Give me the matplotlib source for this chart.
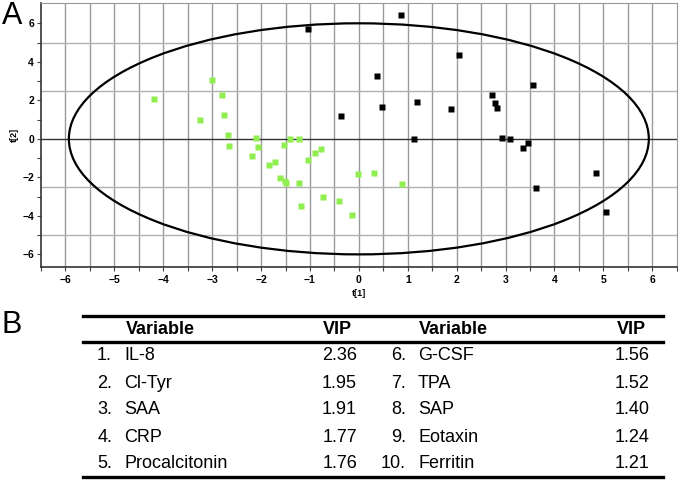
import numpy as np
import matplotlib.pyplot as plt
from matplotlib.patches import Ellipse

plt.rcParams['font.family'] = ['Liberation Sans', 'DejaVu Sans']

# scores, group 1 (green) and group 2 (black)
green_t1 = [-4.19, -3.01, -3.24, -2.79, -2.75, -2.67, -2.65, -2.11, -2.06, -2.19,
            -1.83, -1.72, -1.61, -1.52, -1.50, -1.53, -1.41, -1.23, -1.23, -1.18,
            -1.04, -0.89, -0.77, -0.74, -0.40, -0.02, 0.31, 0.89, -0.14]
green_t2 = [2.09, 3.03, 0.97, 2.26, 1.22, 0.22, -0.38, 0.03, -0.40, -0.88,
            -1.34, -1.19, -2.05, -2.19, -2.28, -0.31, 0.0, 0.0, -2.31, -3.50,
            -1.12, -0.74, -0.52, -3.02, -3.23, -1.84, -1.79, -2.34, -3.97]
black_t1 = [-1.03, 0.86, 2.04, 0.38, 3.57, -0.36, 0.48, 1.19, 1.89, 2.73,
            2.78, 2.83, 1.13, 2.92, 3.10, 3.35, 3.45, 4.85, 3.62, 5.05]
black_t2 = [5.69, 6.41, 4.34, 3.24, 2.79, 1.17, 1.64, 1.90, 1.57, 2.26,
            1.86, 1.60, -0.03, 0.02, 0.0, -0.45, -0.24, -1.76, -2.53, -3.79]

# Hotelling T2 ellipse semi axes
ell_a = 5.93
ell_b = 6.0

# VIP table
var_left = ['IL-8', 'Cl-Tyr', 'SAA', 'CRP', 'Procalcitonin']
vip_left = [2.36, 1.95, 1.91, 1.77, 1.76]
var_right = ['G-CSF', 'TPA', 'SAP', 'Eotaxin', 'Ferritin']
vip_right = [1.56, 1.52, 1.40, 1.24, 1.21]

fig = plt.figure(figsize=(6.8, 4.83), dpi=100)
W, H = 680, 483

ax = fig.add_axes([41 / W, 1 - 266.7 / H, (676.7 - 41) / W, (266.7 - 2.7) / H])
ax.set_xlim(-6.5, 6.5)
ax.set_ylim(-6.64, 7.07)

# grid
for gx in np.arange(-6.0, 6.01, 0.5):
    ax.axvline(gx, color='#9a9a9a', lw=1.0, zorder=0)
for gy in [-5, -2.5, 2.5, 5]:
    ax.axhline(gy, color='#b0b0b0', lw=1.0, zorder=0)
ax.axhline(0, color='#333333', lw=1.0, zorder=0)

ax.add_patch(Ellipse((0, 0), 2 * ell_a, 2 * ell_b, fill=False, ec='black', lw=1.6, zorder=2))

ax.plot(green_t1, green_t2, 's', color='#90EE50', markersize=4.6, mec='none', zorder=3)
ax.plot(black_t1, black_t2, 's', color='black', markersize=4.3, mec='none', zorder=3)

for s in ['top', 'right']:
    ax.spines[s].set_color('#9a9a9a')
for s in ['left', 'bottom']:
    ax.spines[s].set_color('#333333')
    ax.spines[s].set_linewidth(1.2)

ax.set_xticks(np.arange(-6, 7, 1))
ax.set_xticks(np.arange(-6.5, 6.51, 0.5), minor=True)
ax.set_yticks(np.arange(-6, 7, 2))
ax.set_yticks(np.arange(-6, 7, 1), minor=True)
ax.tick_params(which='both', direction='out', length=3, width=0.8, color='#444444')
ax.tick_params(labelsize=7.5, pad=3)
ax.tick_params(axis='y', pad=2)
for lab in ax.get_xticklabels() + ax.get_yticklabels():
    lab.set_fontweight('bold')
ax.set_xlabel('t[1]', fontsize=6.5, fontweight='bold', labelpad=3)
ax.set_ylabel('t[2]', fontsize=6.5, fontweight='bold', labelpad=0)
ax.yaxis.set_label_coords(-19 / (676.7 - 41) * 0 + (19 - 41) / (676.7 - 41), 0.5)

fig.text(2 / W, 1 - 16 / H, 'A', fontsize=22, va='center', ha='left')
fig.text(1 / W, 1 - 325 / H, 'B', fontsize=22, va='center', ha='left')

# table drawn in pixel coordinates of the figure
tx = fig.add_axes([0, 0, 1, 1])
tx.set_xlim(0, W)
tx.set_ylim(H, 0)
tx.axis('off')

tx.plot([83, 663], [315.5, 315.5], color='black', lw=2.4)
tx.plot([83, 663], [342, 342], color='black', lw=2.4)
tx.plot([83, 663], [477, 477], color='black', lw=2.4)

fs = 13
tx.text(126, 329, 'Variable', fontsize=fs, fontweight='bold', va='center', ha='left')
tx.text(352, 329, 'VIP', fontsize=fs, fontweight='bold', va='center', ha='right')
tx.text(419, 329, 'Variable', fontsize=fs, fontweight='bold', va='center', ha='left')
tx.text(646, 329, 'VIP', fontsize=fs, fontweight='bold', va='center', ha='right')

row_y = 356 + 27 * np.arange(len(var_left))
for i, y in enumerate(row_y):
    tx.text(112, y, f'{i + 1}.', fontsize=fs, va='center', ha='right')
    tx.text(124, y, var_left[i], fontsize=fs, va='center', ha='left')
    tx.text(357, y, f'{vip_left[i]:.2f}', fontsize=fs, va='center', ha='right')
    tx.text(406, y, f'{i + 6}.', fontsize=fs, va='center', ha='right')
    tx.text(418, y, var_right[i], fontsize=fs, va='center', ha='left')
    tx.text(650, y, f'{vip_right[i]:.2f}', fontsize=fs, va='center', ha='right')

fig.savefig('out.png', dpi=100)
